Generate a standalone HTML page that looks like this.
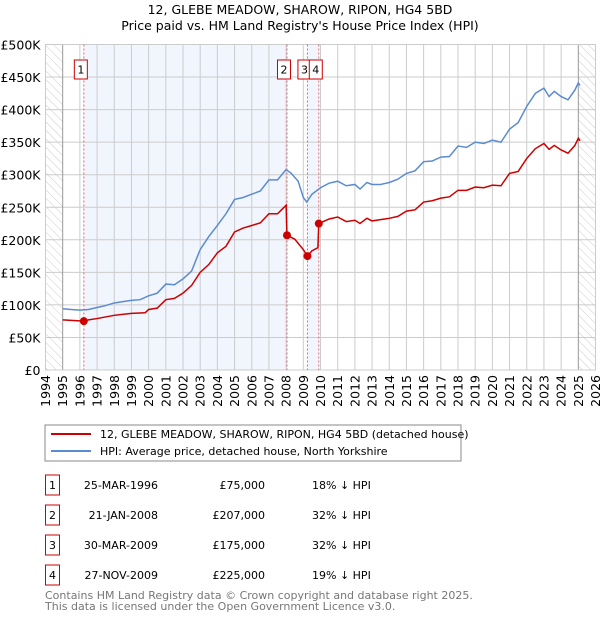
<!DOCTYPE html>
<html><head><meta charset="utf-8"><style>
body{margin:0;background:#fff;font-family:"DejaVu Sans","Liberation Sans",sans-serif;}
svg text{font-family:"DejaVu Sans","Liberation Sans",sans-serif;}
</style></head><body>
<svg id="c" width="600" height="620" xmlns="http://www.w3.org/2000/svg">
<defs><pattern id="hatch" width="6" height="6" patternUnits="userSpaceOnUse" patternTransform="rotate(-45)"><line x1="0" y1="0" x2="0" y2="6" stroke="#ccc" stroke-width="1"/></pattern></defs>
<text x="300" y="14" text-anchor="middle" font-size="12.5">12, GLEBE MEADOW, SHAROW, RIPON, HG4 5BD</text>
<text x="300" y="30" text-anchor="middle" font-size="12.5">Price paid vs. HM Land Registry's House Price Index (HPI)</text>
<g id="plot"></g>
<rect x="45" y="425" width="416" height="36" fill="#fff" stroke="#888"/>
<line x1="51" y1="434" x2="91" y2="434" stroke="#cc0000" stroke-width="2"/>
<text x="100" y="438" font-size="11">12, GLEBE MEADOW, SHAROW, RIPON, HG4 5BD (detached house)</text>
<line x1="51" y1="451" x2="91" y2="451" stroke="#5b8bd0" stroke-width="2"/>
<text x="100" y="455" font-size="11">HPI: Average price, detached house, North Yorkshire</text>
<g id="table"></g>
<text x="45" y="599" font-size="11" fill="#777">Contains HM Land Registry data © Crown copyright and database right 2025.</text>
<text x="45" y="610" font-size="11" fill="#777">This data is licensed under the Open Government Licence v3.0.</text>
</svg>
<script>
const hpiYears=[1995,1995.5,1996,1996.5,1997,1997.5,1998,1998.5,1999,1999.5,2000,2000.5,2001,2001.5,2002,2002.5,2003,2003.5,2004,2004.5,2005,2005.5,2006,2006.5,2007,2007.5,2008,2008.3,2008.7,2009,2009.2,2009.5,2010,2010.5,2011,2011.5,2012,2012.3,2012.7,2013,2013.5,2014,2014.5,2015,2015.5,2016,2016.5,2017,2017.5,2018,2018.5,2019,2019.5,2020,2020.5,2021,2021.5,2022,2022.5,2023,2023.3,2023.6,2024,2024.4,2024.8,2025,2025.1];
const hpiValues=[94,93,92,93,96,99,103,105,107,108,114,118,132,131,140,152,185,205,222,240,262,265,270,275,292,292,308,302,290,265,258,270,280,287,290,283,285,278,288,285,285,288,293,302,306,320,321,327,328,344,342,350,348,353,350,370,380,405,425,433,420,428,420,415,430,441,437];
const propYears=[1995,1996.23,1996.5,1997,1998,1999,1999.8,2000,2000.5,2001,2001.5,2002,2002.5,2003,2003.5,2004,2004.5,2005,2005.5,2006,2006.5,2007,2007.5,2008,2008.05,2008.5,2009,2009.24,2009.5,2009.85,2009.9,2010.5,2011,2011.5,2012,2012.3,2012.7,2013,2014,2014.5,2015,2015.5,2016,2016.5,2017,2017.5,2018,2018.5,2019,2019.5,2020,2020.5,2021,2021.5,2022,2022.5,2023,2023.3,2023.6,2024,2024.4,2024.8,2025,2025.1];
const propValues=[77,75,77,79,84,87,88,93,95,108,110,118,130,150,162,180,190,212,218,222,226,240,240,253,207,201,185,175,183,188,225,232,235,228,230,225,233,229,233,236,244,246,258,260,264,266,276,276,281,280,284,283,302,305,325,340,348,339,345,338,333,345,356,352];
const saleIds=["1","2","3","4"];
const saleYears=[1996.23,2008.05,2009.24,2009.9];
const saleValues=[75,207,175,225];
const saleDates=["25-MAR-1996","21-JAN-2008","30-MAR-2009","27-NOV-2009"];
const salePrices=["£75,000","£207,000","£175,000","£225,000"];
const saleDiffs=["18% ↓ HPI","32% ↓ HPI","32% ↓ HPI","19% ↓ HPI"];
const yTicks=[0,50,100,150,200,250,300,350,400,450,500];
const yTickLabels=["£0","£50K","£100K","£150K","£200K","£250K","£300K","£350K","£400K","£450K","£500K"];
const xTicks=[1994,1995,1996,1997,1998,1999,2000,2001,2002,2003,2004,2005,2006,2007,2008,2009,2010,2011,2012,2013,2014,2015,2016,2017,2018,2019,2020,2021,2022,2023,2024,2025,2026];
const X0=45.5,X1=595.5,Y0=370,Y1=44.5;
const xs=y=>X0+(y-1994)/(32)*(X1-X0);
const ys=v=>Y0-v/500*(Y0-Y1);
const NS="http://www.w3.org/2000/svg";
const g=document.getElementById('plot');
function mk(tag,attrs,parent){const e=document.createElementNS(NS,tag);for(const k in attrs)e.setAttribute(k,attrs[k]);(parent||g).appendChild(e);return e;}
let e;
e=mk('rect',{x:X0,y:Y1,width:X1-X0,height:Y0-Y1,fill:'#fff'});


e=mk('rect',{x:xs(saleYears[0]),y:Y1,width:xs(saleYears[1])-xs(saleYears[0]),height:Y0-Y1,fill:'#eef3fd',opacity:0.8});


e=mk('rect',{x:xs(saleYears[2]),y:Y1,width:xs(saleYears[3])-xs(saleYears[2]),height:Y0-Y1,fill:'#eef3fd',opacity:0.8});


e=mk('rect',{x:xs(1994),y:Y1,width:xs(1995)-xs(1994),height:Y0-Y1,fill:'url(#hatch)'});


e=mk('rect',{x:xs(2025),y:Y1,width:xs(2026)-xs(2025),height:Y0-Y1,fill:'url(#hatch)'});


yTicks.forEach((v,i)=>{
 e=mk('line',{x1:X0,x2:X1,y1:ys(v),y2:ys(v),stroke:'#ccc','stroke-width':1});
 
 
 e=mk('text',{x:X0-5,y:ys(v)+5,'text-anchor':'end','font-size':'12.5'});e.textContent=yTickLabels[i];
 
 
});
xTicks.forEach(yr=>{
 e=mk('line',{x1:xs(yr),x2:xs(yr),y1:Y1,y2:Y0,stroke:(yr==1995||yr==2025)?'#999':'#ccc','stroke-width':1});
 
 
 e=mk('text',{x:xs(yr)+4.5,y:Y0+5,'text-anchor':'end','font-size':'12.5',transform:`rotate(-90 ${xs(yr)+4.5} ${Y0+5})`});e.textContent=yr;
 
 
});
e=mk('rect',{x:X0,y:Y1,width:X1-X0,height:Y0-Y1,fill:'none',stroke:'#ccc'});


saleYears.forEach((yr,i)=>{
 e=mk('line',{x1:xs(yr),x2:xs(yr),y1:Y1,y2:Y0,stroke:'#f06060','stroke-dasharray':'2,2','stroke-width':1});
 
 
});
const labelX=[xs(saleYears[0])-3,xs(saleYears[1])-3,xs(saleYears[2])-3,xs(saleYears[3])-3];
saleIds.forEach((id,i)=>{
 const cx=labelX[i];
 e=mk('rect',{x:cx-6.5,y:60,width:13,height:19,fill:'#fff',stroke:'#cc0000'});
 
 
 e=mk('text',{x:cx,y:73.5,'text-anchor':'middle','font-size':'11'});e.textContent=id;
 
 
});
e=mk('polyline',{points:hpiYears.map((y,i)=>xs(y)+','+ys(hpiValues[i])).join(' '),fill:'none',stroke:'#5b8bd0','stroke-width':1.5});


e=mk('polyline',{points:propYears.map((y,i)=>xs(y)+','+ys(propValues[i])).join(' '),fill:'none',stroke:'#cc0000','stroke-width':1.5});


saleYears.forEach((yr,i)=>{
 e=mk('circle',{cx:xs(yr),cy:ys(saleValues[i]),r:4,fill:'#cc0000'});
 
 
});
const t=document.getElementById('table');
saleIds.forEach((id,i)=>{
 const y=483+i*30;
 e=mk('rect',{x:45.5,y:y-8,width:14,height:20,fill:'#fff',stroke:'#cc0000'},t);
 
 
 e=mk('text',{x:52.5,y:y+6,'text-anchor':'middle','font-size':'11'},t);e.textContent=id;
 
 
 e=mk('text',{x:158,y:y+6,'text-anchor':'end','font-size':'11'},t);e.textContent=saleDates[i];
 
 
 e=mk('text',{x:265,y:y+6,'text-anchor':'end','font-size':'11'},t);e.textContent=salePrices[i];
 
 
 e=mk('text',{x:312,y:y+6,'font-size':'11'},t);e.textContent=saleDiffs[i];
 
 
});
</script>
</body></html>
